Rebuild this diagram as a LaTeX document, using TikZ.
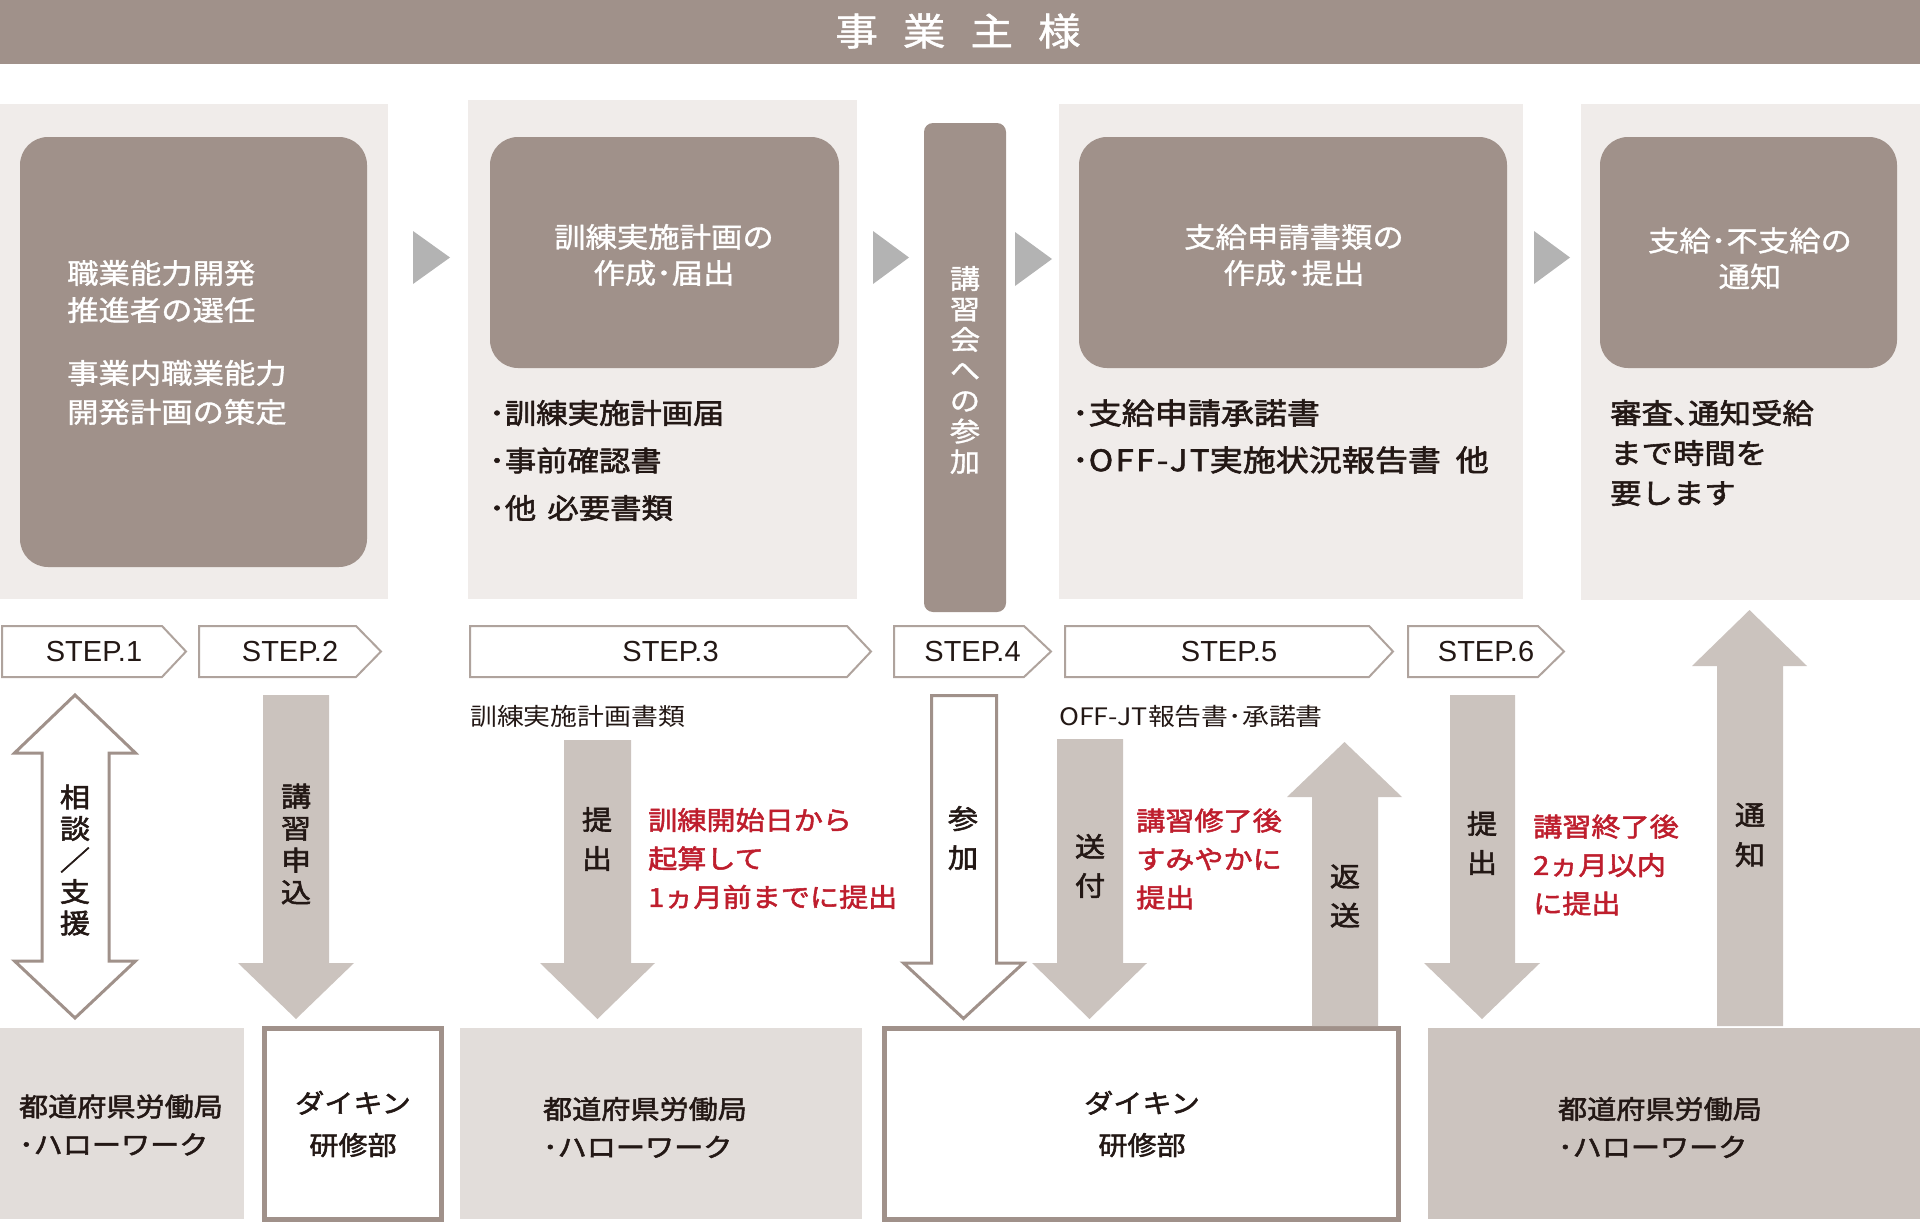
\documentclass[tikz,border=0pt]{standalone}
\usepackage{fontspec}
\setmainfont{Liberation Sans}
\newfontfamily\jp[FakeStretch=1.12]{Noto Sans CJK JP}
\newfontfamily\jpt[FakeStretch=1.12,FakeBold=1.2]{Noto Sans CJK JP}
\newfontfamily\jpm[FakeStretch=1.12,FakeBold=2]{Noto Sans CJK JP}
\newfontfamily\jpls[FakeStretch=1.12,FakeBold=2,LetterSpace=8]{Noto Sans CJK JP}
\newfontfamily\stepfont{Liberation Sans}
\definecolor{taupe}{HTML}{A0918A}
\definecolor{panelc}{HTML}{F0ECEA}
\definecolor{arrowc}{HTML}{CBC3BE}
\definecolor{trig}{HTML}{B3B3B3}
\definecolor{stepb}{HTML}{AFA39D}
\definecolor{redt}{HTML}{BE1E2D}
\definecolor{darkt}{HTML}{231815}
\definecolor{botl}{HTML}{E2DDDA}
\definecolor{botd}{HTML}{CCC4BF}
\newcommand\BlockArrow[8]{%
  \draw[#1] (#2,#6) -- (#3,#6) -- (#3,#7) -- (#5,#7) -- ({(#4+#5)/2},#8) -- (#4,#7) -- (#2,#7) -- cycle;}
\newcommand\StepShape[4]{%
  \draw[stepbox] (#1,626) -- (#2,626) -- (#3,651.5) -- (#2,677) -- (#1,677) -- cycle;
  \node[steptxt] (#4) at ({(#1+#3)/2},651.5) {\MakeUppercase{step}.\StepNum};}
\begin{document}
\begin{tikzpicture}[x=1pt,y=-1pt,
  panel/.style={fill=panelc,draw=none},
  rbox/.style={fill=taupe,draw=none,rounded corners=28pt},
  tri/.style={fill=trig,draw=none},
  stepbox/.style={draw=stepb,line width=2pt,fill=white,line join=miter},
  steptxt/.style={font=\stepfont\fontsize{29}{30}\selectfont,text=darkt,inner sep=0pt},
  farrow/.style={fill=arrowc,draw=none},
  oarrow/.style={fill=white,draw=taupe,line width=3pt,line join=miter},
  vlab/.style={font=\jpm\fontsize{27}{39}\selectfont,align=center,text=darkt,inner sep=0pt},
  wtitle/.style={font=\jpt\fontsize{28}{36}\selectfont,align=center,text=white,inner sep=0pt},
  bullet/.style={font=\jpm\fontsize{28}{47.5}\selectfont,align=left,text=darkt,inner sep=0pt,anchor=west},
  redtxt/.style={font=\jpm\fontsize{26}{38.5}\selectfont,align=left,text=redt,inner sep=0pt,anchor=west},
  small/.style={font=\jp\fontsize{24}{28}\selectfont,text=darkt,inner sep=0pt,anchor=west},
  bottxt/.style={font=\jpm\fontsize{26}{38}\selectfont,align=left,text=darkt,inner sep=0pt},
  botcen/.style={font=\jpm\fontsize{26}{42}\selectfont,align=center,text=darkt,inner sep=0pt}
]
\useasboundingbox (0,0) rectangle (1920,1223);
% title bar
\fill[taupe] (0,0) rectangle (1920,64);
\node[font=\jpt\fontsize{38}{40}\selectfont,text=white,inner sep=0pt] (title) at (958,31)
  {事\hspace{25pt}業\hspace{25pt}主\hspace{25pt}様};
% panels
\fill[panel] (0,104) rectangle (388,599);
\fill[panel] (468,100) rectangle (857,599);
\fill[panel] (1059,104) rectangle (1523,599);
\fill[panel] (1581,104) rectangle (1920,600);
% rounded boxes
\fill[rbox] (20,137) rectangle (367,567);
\fill[rbox] (490,137) rectangle (839,368);
\fill[rbox] (1079,137) rectangle (1507,368);
\fill[rbox] (1600,137) rectangle (1897,368);
\fill[taupe,rounded corners=9pt] (924,123) rectangle (1006,612);
% box texts
\node[wtitle,align=left,anchor=west,font=\jpt\fontsize{28}{37}\selectfont] (b1a) at (67,291.5) {職業能力開発\\推進者の選任};
\node[wtitle,align=left,anchor=west,font=\jpt\fontsize{28}{39}\selectfont] (b1b) at (67,392.5) {事業内職業能力\\開発計画の策定};
\node[wtitle] (b2) at (664,255) {訓練実施計画の\\作成･届出};
\node[wtitle] (b4) at (1294,255) {支給申請書類の\\作成･提出};
\node[wtitle] (b5) at (1750,258.5) {支給･不支給の\\通知};
\node[font=\jpt\fontsize{27}{30.5}\selectfont,align=center,text=white,inner sep=0pt] (bar) at (965,370)
  {講\\習\\会\\へ\\の\\参\\加};
% bullets
\node[bullet] (l2) at (489,460.5) {･訓練実施計画届\\･事前確認書\\･他\hspace{0.4em}必要書類};
\node[bullet,font=\jpm\fontsize{29.5}{47}\selectfont] (l4) at (1072,436.5) {･支給申請承諾書\\･{\jpls OFF-JT}実施状況報告書\hspace{0.5em}他};
\node[bullet,font=\jpm\fontsize{28}{40}\selectfont] (l5) at (1610,453) {審査\makebox[0.55em][l]{、}通知受給\\まで時間を\\要します};
% triangles
\fill[tri] (413,231) -- (450,257.5) -- (413,284) -- cycle;
\fill[tri] (873,231) -- (909,257.5) -- (873,284) -- cycle;
\fill[tri] (1015,232) -- (1052,259) -- (1015,286) -- cycle;
\fill[tri] (1534,231) -- (1570,257.5) -- (1534,284) -- cycle;
% step boxes
\def\StepNum{1}\StepShape{2}{162}{186}{s1}
\def\StepNum{2}\StepShape{199}{356}{381}{s2}
\def\StepNum{3}\StepShape{470}{847}{871}{s3}
\def\StepNum{4}\StepShape{894}{1024}{1051}{s4}
\def\StepNum{5}\StepShape{1065}{1369}{1393}{s5}
\def\StepNum{6}\StepShape{1408}{1538}{1564}{s6}
% bottom boxes
\fill[botl] (0,1028) rectangle (244,1219);
\draw[fill=white,draw=taupe,line width=5pt] (264.5,1028.5) rectangle (441.5,1219.5);
\fill[botl] (460,1028) rectangle (862,1219);
\draw[fill=white,draw=taupe,line width=5pt] (884.5,1028.5) rectangle (1398.5,1219.5);
\fill[botd] (1428,1028) rectangle (1920,1219);
\node[bottxt] (ha) at (121,1125) {都道府県労働局\\･ハローワーク};
\node[botcen] (da) at (353,1124) {ダイキン\\研修部};
\node[bottxt] (hc) at (645,1127.5) {都道府県労働局\\･ハローワーク};
\node[botcen] (dd) at (1142,1124) {ダイキン\\研修部};
\node[bottxt] (he) at (1660,1127.5) {都道府県労働局\\･ハローワーク};
% arrows
\draw[oarrow] (42,753) -- (14.5,753) -- (75,695) -- (135.5,753) -- (109,753) -- (109,961)
  -- (135.5,961) -- (75,1018) -- (14.5,961) -- (42,961) -- cycle;
\node[vlab,font=\jpm\fontsize{27}{31.5}\selectfont] (a1) at (75,860) {相\\談\\／\\支\\援};
\BlockArrow{farrow}{263}{329}{238}{354}{695}{963}{1019}
\node[vlab,font=\jpm\fontsize{27}{32}\selectfont] (a2) at (296,844) {講\\習\\申\\込};
\node[small] (lab3) at (470,716) {訓練実施計画書類};
\BlockArrow{farrow}{564}{631}{540}{655}{740}{963}{1019}
\node[vlab] (a3) at (597,839) {提\\出};
\node[redtxt] (r3) at (648,858.5) {訓練開始日から\\起算して\\1ヵ月前までに提出};
\BlockArrow{oarrow}{931.5}{996.5}{903.5}{1023.5}{695.5}{963}{1018.5}
\node[vlab] (a4) at (963,838) {参\\加};
\node[small] (lab5) at (1059,716) {OFF-JT報告書･承諾書};
\BlockArrow{farrow}{1057}{1123}{1032}{1147}{739}{963}{1019}
\node[vlab] (a5) at (1090,866) {送\\付};
\node[redtxt] (r5) at (1136,859) {講習修了後\\すみやかに\\提出};
\BlockArrow{farrow}{1312}{1378}{1287}{1402}{1026}{797}{742}
\node[vlab] (a6) at (1345,896) {返\\送};
\BlockArrow{farrow}{1450}{1515}{1424}{1540}{695}{963}{1019}
\node[vlab] (a7) at (1482,843) {提\\出};
\node[redtxt] (r6) at (1533,865) {講習終了後\\2ヵ月以内\\に提出};
\BlockArrow{farrow}{1717}{1783}{1692}{1807}{1026}{666}{610}
\node[vlab,font=\jpm\fontsize{27}{40}\selectfont] (a8) at (1750,835) {通\\知};
\end{tikzpicture}
\end{document}
